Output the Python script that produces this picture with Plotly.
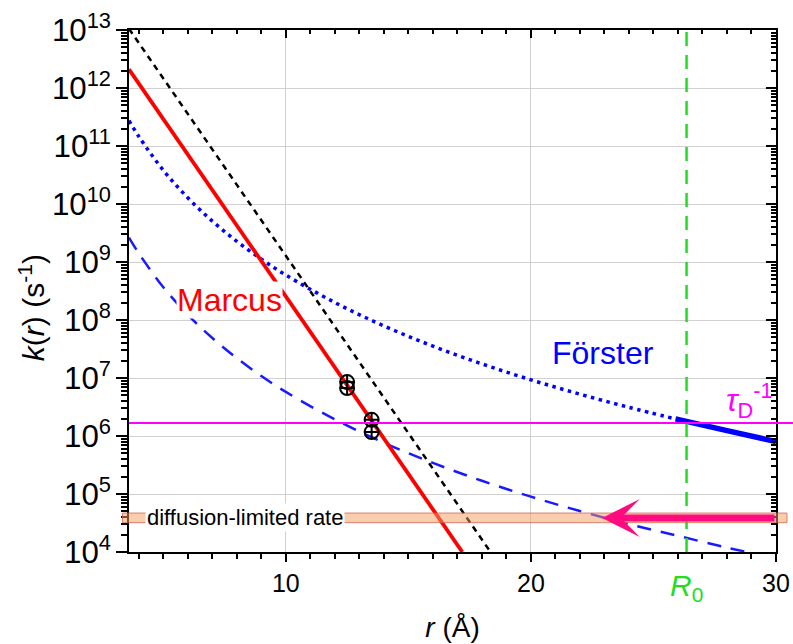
import math
import plotly.graph_objects as go

FONT = "Liberation Sans, Arial, sans-serif"

# ---- data ----
x_range = [3.6, 30]
y_range_exp = [4, 13]

# Marcus electron-transfer rate (solid red, straight on log scale)
marcus_r = [3.6, 17.2]
marcus_k = [2.1e12, 1.0e4]

# reference exponential (black dashed)
ref_r = [3.6, 18.35]
ref_k = [1.05e13, 1.0e4]

# Förster rate (blue dotted up to R0)
forster_r = [3.6, 4, 5, 6, 7, 8, 9, 10, 12, 14, 16, 18, 20, 22, 24, 25.9]
forster_k = [2.74e11, 1.46e11, 3.81e10, 1.28e10, 5.06e9, 2.27e9, 1.12e9, 5.96e8,
             2.0e8, 7.9e7, 3.55e7, 1.75e7, 9.3e6, 5.26e6, 3.12e6, 1.97e6]

# Förster rate beyond R0 (thick solid blue)
forster_far_r = [25.9, 28, 30]
forster_far_k = [1.97e6, 1.24e6, 8.0e5]

# second Förster curve (blue dashed)
forster2_r = [3.6, 4, 5, 6, 7, 8, 9, 10, 12, 14, 16, 18, 20, 22, 24, 26, 28, 29.5]
forster2_k = [2.64e9, 1.41e9, 3.68e8, 1.23e8, 4.89e7, 2.2e7, 1.08e7, 5.75e6,
              1.93e6, 7.64e5, 3.43e5, 1.69e5, 9.0e4, 5.08e4, 3.01e4, 1.9e4, 1.19e4, 8.7e3]

# experimental points (circled crosses)
exp_r = [12.5, 12.5, 13.5, 13.5]
exp_k = [8.5e6, 6.7e6, 1.9e6, 1.17e6]

tau_d_inv = 1.67e6          # magenta horizontal line
R0 = 26.35                  # green dashed vertical line
diff_band = [3.2e4, 4.7e4]  # diffusion-limited rate band
arrow_k = 3.86e4
arrow_from_r = 30.0
arrow_to_r = 22.9

fig = go.Figure()

fig.add_trace(go.Scatter(x=ref_r, y=ref_k, mode="lines",
                         line=dict(color="black", width=2.5, dash="6px,5px"),
                         hoverinfo="skip", showlegend=False))
fig.add_trace(go.Scatter(x=forster2_r, y=forster2_k, mode="lines",
                         line=dict(color="#1a1aff", width=2.5, dash="14px,10px", shape="spline"),
                         hoverinfo="skip", showlegend=False))
fig.add_trace(go.Scatter(x=forster_r, y=forster_k, mode="lines",
                         line=dict(color="#0000ff", width=3.5, dash="3.5px,4.5px", shape="spline"),
                         hoverinfo="skip", showlegend=False))
fig.add_trace(go.Scatter(x=forster_far_r, y=forster_far_k, mode="lines",
                         line=dict(color="#0000ff", width=5.5, shape="spline"),
                         hoverinfo="skip", showlegend=False))
fig.add_trace(go.Scatter(x=marcus_r, y=marcus_k, mode="lines",
                         line=dict(color="#ff0000", width=3.8),
                         hoverinfo="skip", showlegend=False))
fig.add_trace(go.Scatter(x=[R0, R0], y=[10 ** y_range_exp[0], 10 ** y_range_exp[1]], mode="lines",
                         line=dict(color="#22dd22", width=2.5, dash="14px,9px"),
                         hoverinfo="skip", showlegend=False))
fig.add_trace(go.Scatter(x=exp_r, y=exp_k, mode="markers",
                         marker=dict(symbol="circle-cross-open", size=14, color="black",
                                     line=dict(width=2, color="black")),
                         hoverinfo="skip", showlegend=False))
# dummy trace to materialise the mirrored top/right axes
fig.add_trace(go.Scatter(x=[10], y=[1e6], xaxis="x2", yaxis="y2", mode="markers",
                         marker=dict(opacity=0), hoverinfo="skip", showlegend=False))

# diffusion-limited band (extends slightly past the frame)
fig.add_shape(type="rect", xref="paper", yref="y", x0=-0.01, x1=1.017,
              y0=diff_band[0], y1=diff_band[1],
              fillcolor="rgba(245,155,95,0.5)", line=dict(color="rgba(200,90,70,0.7)", width=1),
              layer="above")
# 1/tau_D line
fig.add_shape(type="line", xref="paper", yref="y", x0=0, x1=1.03,
              y0=tau_d_inv, y1=tau_d_inv, line=dict(color="#ff00ff", width=2), layer="above")

ann = []
ann.append(dict(x=arrow_to_r, y=math.log10(arrow_k), ax=arrow_from_r, ay=math.log10(arrow_k),
                xref="x", yref="y", axref="x", ayref="y", text="", showarrow=True,
                arrowhead=3, arrowsize=0.9, arrowwidth=7, arrowcolor="#ff0a7f"))
ann.append(dict(x=7.72, y=8.345, xref="x", yref="y", text="Marcus", showarrow=False,
                font=dict(family=FONT, size=32, color="#ff0000"), bgcolor="white", borderpad=0))
ann.append(dict(x=22.95, y=7.43, xref="x", yref="y", text="Förster", showarrow=False,
                font=dict(family=FONT, size=32, color="#0000ff")))
ann.append(dict(x=8.33, y=math.log10(arrow_k), xref="x", yref="y", text="diffusion-limited rate",
                showarrow=False, font=dict(family=FONT, size=22, color="black"),
                bgcolor="white", borderpad=1))
ann.append(dict(x=28.9, y=6.62, xref="x", yref="y", text="<i>τ</i><sub>D</sub><sup>-1</sup>",
                showarrow=False, font=dict(family=FONT, size=31, color="#ff00ff")))
ann.append(dict(x=R0, y=-0.108, xref="x", yref="paper", text="<i>R</i><sub>0</sub>",
                showarrow=False, font=dict(family=FONT, size=30, color="#22dd22")))
# y-axis title
ann.append(dict(x=-0.150, y=0.469, xref="paper", yref="paper", textangle=-90,
                text="<i>k</i>(<i>r</i>) (s<sup>-1</sup>)", showarrow=False,
                xanchor="center", yanchor="middle",
                font=dict(family=FONT, size=30, color="black")))

tickfont = dict(family=FONT, size=25, color="black")

fig.update_layout(
    width=793, height=644,
    margin=dict(l=129, r=17, t=30, b=92, autoexpand=False),
    paper_bgcolor="white", plot_bgcolor="white",
    font=dict(family=FONT, color="black"),
    annotations=ann,
    xaxis=dict(range=x_range, dtick=10, tick0=0, ticks="outside", ticklen=8, tickwidth=2,
               tickcolor="black", showline=True, linewidth=2, linecolor="black",
               showgrid=True, gridcolor="#d0d0d0", gridwidth=1, zeroline=False,
               tickfont=tickfont, automargin=False,
               minor=dict(dtick=1, tick0=0, ticks="outside", ticklen=5, tickwidth=1.5,
                          tickcolor="black", showgrid=False),
               title=dict(text="<i>r</i> (Å)", font=dict(family=FONT, size=28, color="black"),
                          standoff=21)),
    xaxis2=dict(overlaying="x", side="top", range=x_range, dtick=10, tick0=0,
                ticks="inside", ticklen=8, tickwidth=2, tickcolor="black",
                showline=True, linewidth=2, linecolor="black", showgrid=False,
                zeroline=False, showticklabels=False, automargin=False,
                minor=dict(dtick=1, tick0=0, ticks="inside", ticklen=4, tickwidth=1.5,
                           tickcolor="black", showgrid=False)),
    yaxis=dict(type="log", range=y_range_exp, dtick=1, exponentformat="power",
               ticks="outside", ticklen=11, tickwidth=2, tickcolor="black",
               showline=True, linewidth=2, linecolor="black",
               showgrid=True, gridcolor="#d0d0d0", gridwidth=1, zeroline=False,
               tickfont=tickfont, automargin=False,
               minor=dict(dtick="D1", ticks="outside", ticklen=6, tickwidth=1.5,
                          tickcolor="black", showgrid=False)),
    yaxis2=dict(overlaying="y", side="right", type="log", range=y_range_exp, dtick=1,
                ticks="inside", ticklen=10, tickwidth=2, tickcolor="black",
                showline=True, linewidth=2, linecolor="black", showgrid=False,
                zeroline=False, showticklabels=False, automargin=False,
                minor=dict(dtick="D1", ticks="inside", ticklen=5, tickwidth=1.5,
                           tickcolor="black", showgrid=False)),
)

fig.write_html("out.html", config={"displayModeBar": False},
               post_script="document.body.style.margin='0px';document.body.style.padding='0px';")
